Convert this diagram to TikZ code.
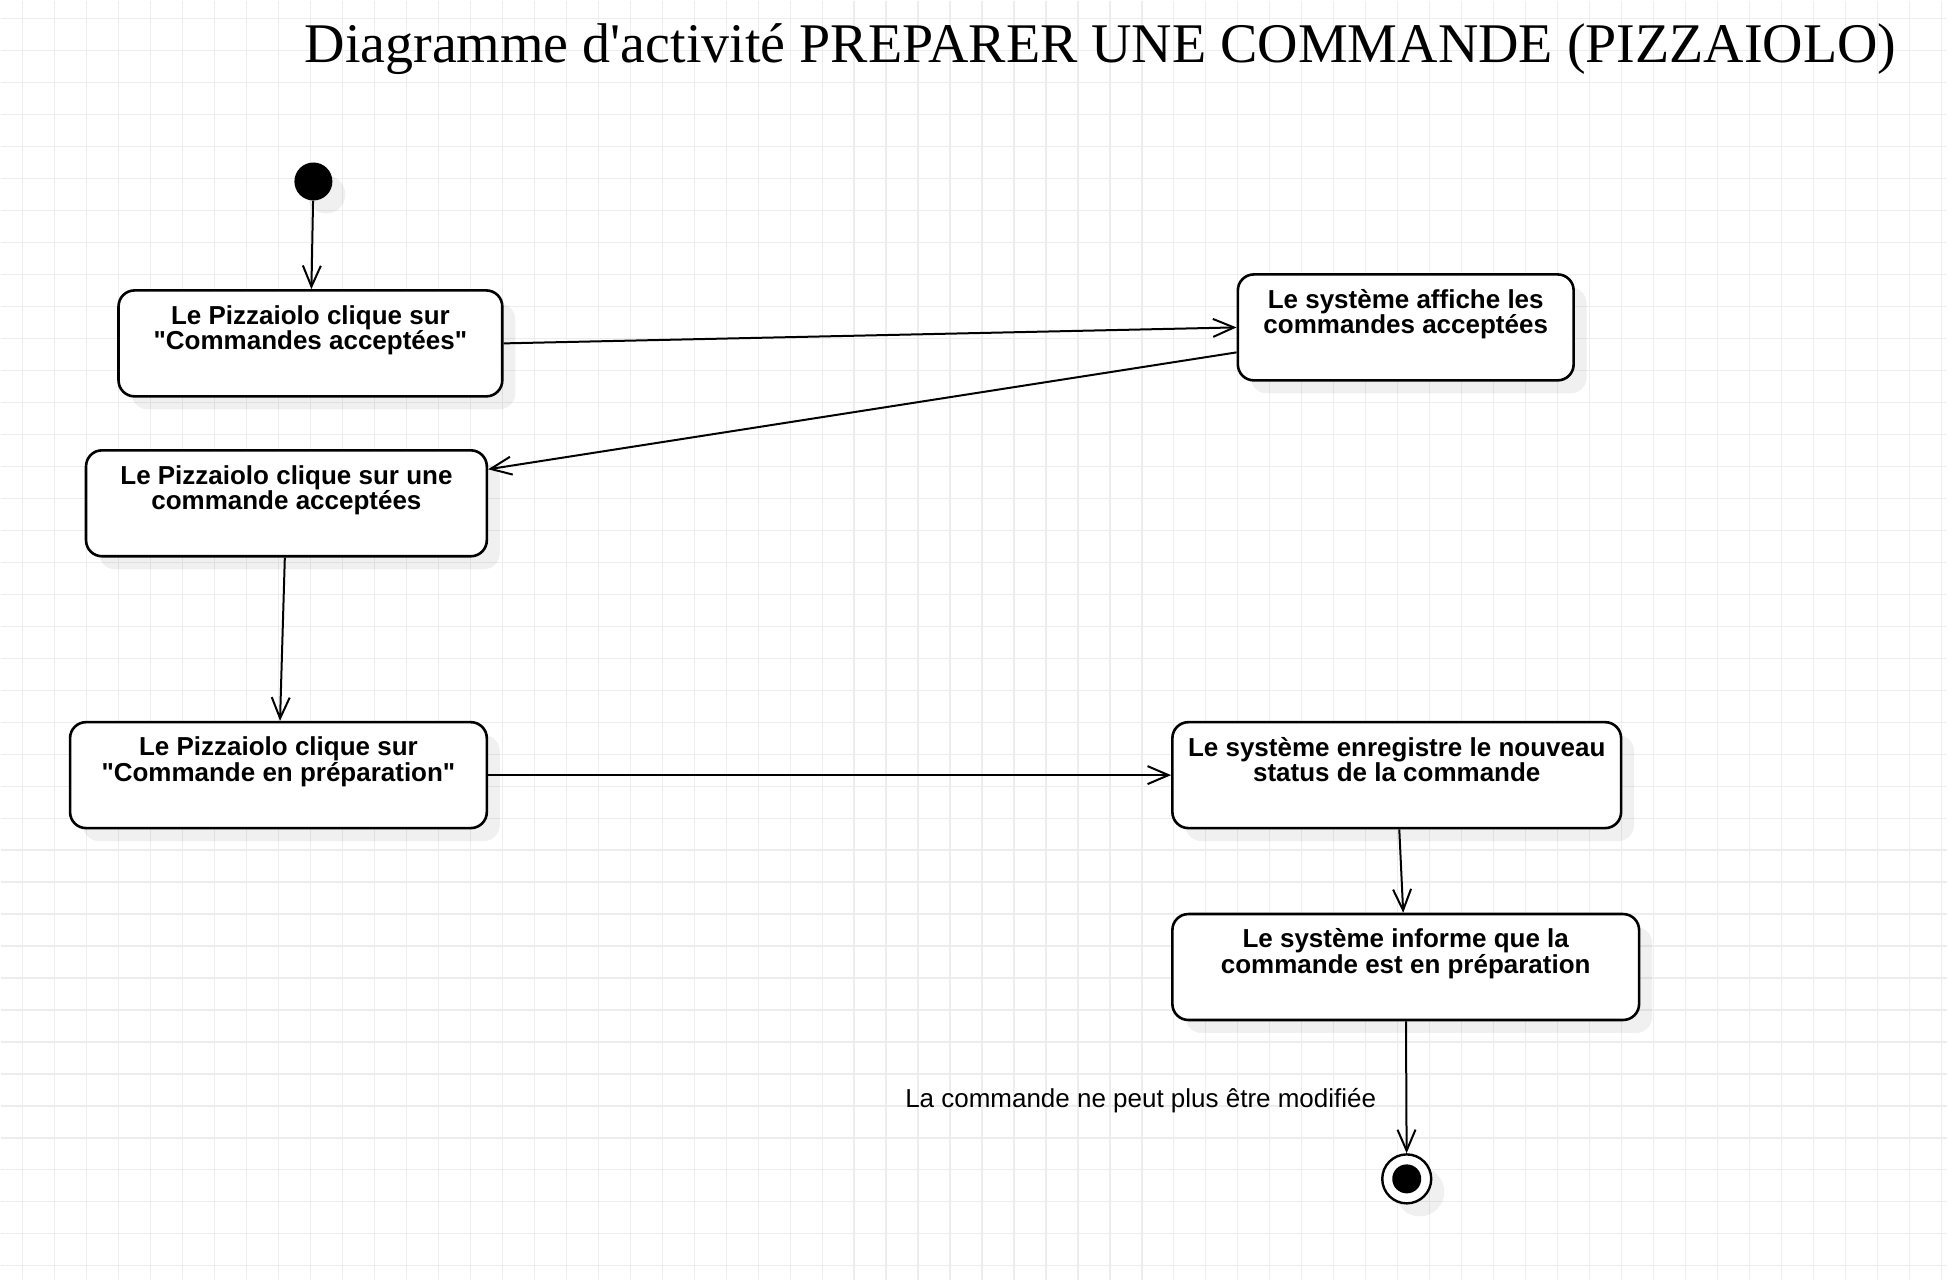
\documentclass[tikz,border=0pt]{standalone}
\usepackage{fontspec}
\setmainfont{Liberation Serif}
\newfontfamily\arial{Liberation Sans}
\usetikzlibrary{arrows.meta, shadows}

\begin{document}
\begin{tikzpicture}[x=1pt, y=-1pt]
    \tikzstyle{grille} = [draw=black!7, line width=1.2pt]
    \tikzstyle{ombre}  = [drop shadow={shadow xshift=13pt, shadow yshift=-13pt, fill=black, opacity=0.06}]
    \tikzstyle{act}    = [draw, line width=2.6pt, rounded corners=16pt, fill=white, minimum height=106pt, inner sep=0pt, ombre]
    \tikzstyle{texte}  = [anchor=north, yshift=-16pt, inner sep=0pt, align=center, font=\arial\bfseries\fontsize{26}{25.5}\selectfont]
    \tikzstyle{fleche} = [-{Straight Barb[length=21pt, width=18pt]}, line width=2pt]

    % Fond quadrillé.
    \fill[white] (0,0) rectangle (1948,1280);
    \foreach \gx in {22,54,...,1948} \draw[grille] (\gx,0) -- (\gx,1280);
    \foreach \gy in {18,50,...,1280} \draw[grille] (0,\gy) -- (1948,\gy);
    \useasboundingbox (0,0) rectangle (1948,1280);

    % Titre.
    \node[anchor=base west, inner sep=0pt, font=\fontsize{56}{60}\selectfont] (titre) at (304,62)
        {Diagramme d\textquotesingle activité PREPARER UNE COMMANDE (PIZZAIOLO)};

    % Les activités.
    \foreach \nom/\x/\y/\w/\txt in {
            b1/ 310/343/384/{Le Pizzaiolo clique sur\\"Commandes acceptées"},
            b2/1406/327/336/{Le système affiche les\\commandes acceptées},
            b3/ 286/503/401/{Le Pizzaiolo clique sur une\\commande acceptées},
            b4/ 278/775/417/{Le Pizzaiolo clique sur\\"Commande en préparation"},
            b5/1397/775/449/{Le système enregistre le nouveau\\status de la commande},
            b6/1406/967/467/{Le système informe que la\\commande est en préparation}} {
        \node[act, minimum width=\w pt, label={[texte]north:\txt}] (\nom) at (\x,\y) {};
    }

    % Début et fin.
    \node[circle, fill=black, minimum size=38pt, inner sep=0pt, ombre] (debut) at (313,181) {};
    \node[circle, draw, fill=white, line width=2.4pt, minimum size=49pt, inner sep=0pt, ombre] (fin) at (1407,1179) {};
    \node[circle, fill=black, minimum size=29pt, inner sep=0pt] (fincoeur) at (fin) {};

    % Les transitions.
    \draw[fleche] (debut) -- (b1);
    \draw[fleche] (b1.east) -- (b2.west);
    \draw[fleche] ([yshift=-25pt]b2.west) -- ([yshift=34pt]b3.east);
    \draw[fleche] (b3) -- (b4);
    \draw[fleche] (b4) -- (b5);
    \draw[fleche] (b5) -- (b6);
    \draw[fleche] (b6) -- (fin);

    % Remarque.
    \node[anchor=base west, inner sep=0pt, font=\arial\fontsize{26}{30}\selectfont] (note) at (905,1108)
        {La commande ne peut plus être modifiée};
\end{tikzpicture}
\end{document}
